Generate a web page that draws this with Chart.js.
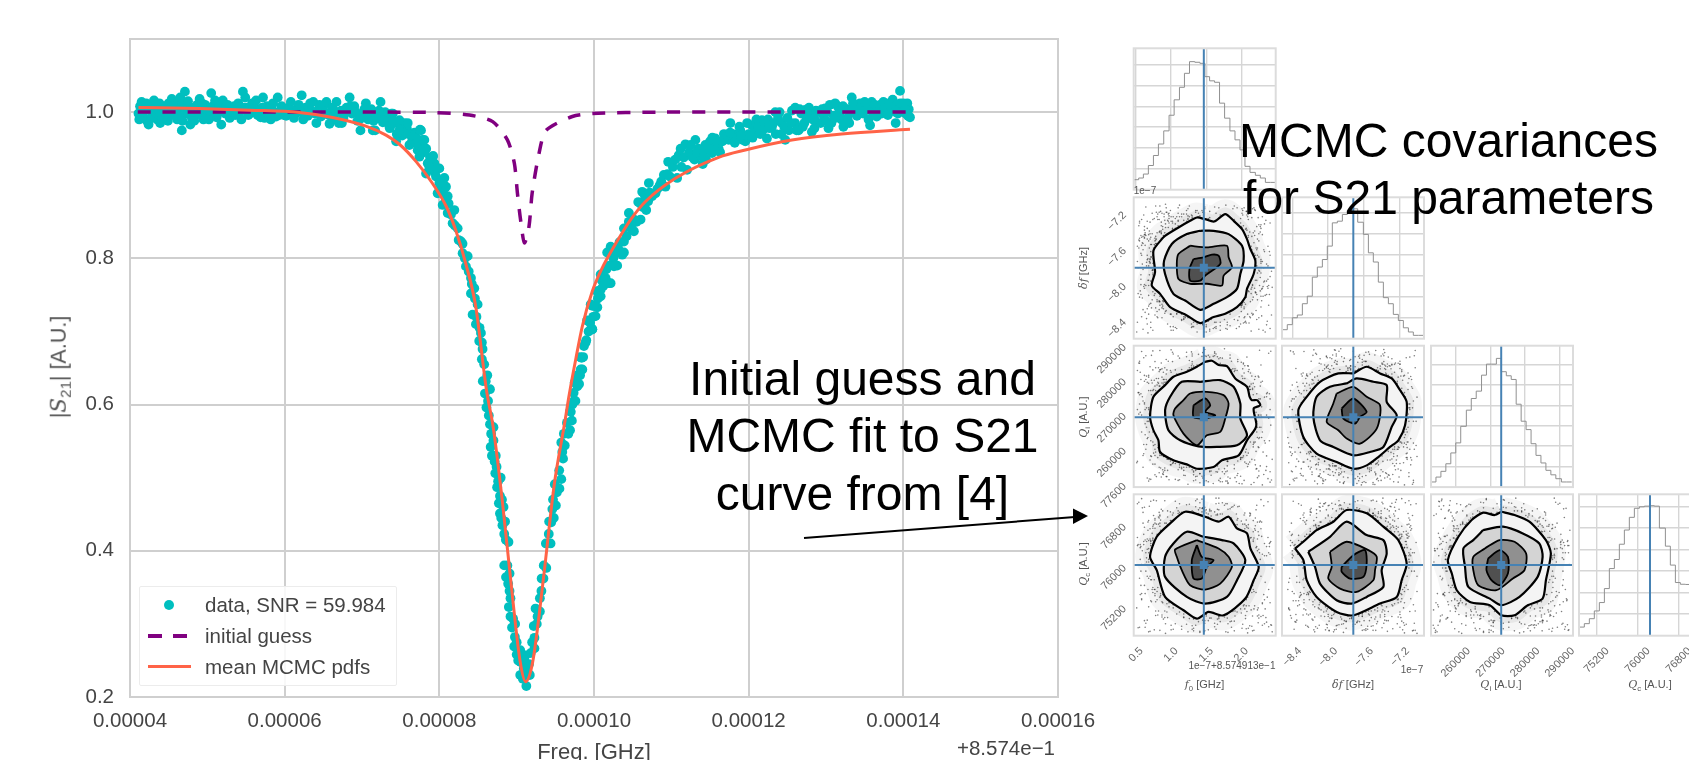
<!DOCTYPE html>
<html>
<head>
<meta charset="utf-8">
<title>S21 fit and MCMC covariances</title>
<script src="https://cdn.jsdelivr.net/npm/chart.js"></script>
<style>
    html, body { margin: 0; padding: 0; background: #fff; overflow: hidden; }
    #page { position: relative; width: 1689px; height: 760px; overflow: hidden; font-family: "Liberation Sans", sans-serif; }
    #page canvas { position: absolute; left: 0; top: 0; }
    .lbl { position: absolute; white-space: nowrap; color: #555; font-size: 11px; line-height: 1; transform: translate(-50%, -50%); }
    .rot { transform: translate(-50%, -50%) rotate(-90deg); }
    .lbl i { font-family: "DejaVu Serif", serif; }
    .lbl sub { font-size: .7em; line-height: 0; }
    .note { position: absolute; white-space: nowrap; text-align: center; color: #000; font-size: 48px; line-height: 57.5px; transform: translateX(-50%); }
    #legend { position: absolute; left: 139px; top: 586px; width: 258px; height: 100px; box-sizing: border-box; background: rgba(255,255,255,.85); border: 1px solid #ececec; border-radius: 2px; }
    #legend span { position: absolute; left: 65px; color: #444; font-size: 20.5px; line-height: 24px; white-space: nowrap; }
    #legend b { position: absolute; display: block; }
</style>
</head>
<body>
<div id="page">
    <canvas id="mainChart" width="1740" height="790"></canvas>
    <canvas id="hist0" width="1740" height="790"></canvas>
    <canvas id="pairA" width="1740" height="790"></canvas>
    <canvas id="hist1" width="1740" height="790"></canvas>
    <canvas id="pairB" width="1740" height="790"></canvas>
    <canvas id="pairC" width="1740" height="790"></canvas>
    <canvas id="hist2" width="1740" height="790"></canvas>
    <canvas id="pairD" width="1740" height="790"></canvas>
    <canvas id="pairE" width="1740" height="790"></canvas>
    <canvas id="pairF" width="1740" height="790"></canvas>
    <canvas id="hist3" width="1740" height="790"></canvas>

    <div class="lbl rot" style="left:59px;top:366.5px;font-size:21.5px;color:#555">|<i>S</i><sub>21</sub>| [A.U.]</div>
    <div class="lbl" style="left:1006px;top:748px;font-size:20.5px;color:#444">+8.574e−1</div>

    <div id="legend"></div>

    <div class="lbl" style="left:1145px;top:191px;font-size:10px">1e−7</div>
    <div class="lbl" style="left:1232px;top:666px;font-size:10px">1e−7+8.574913e−1</div>
    <div class="lbl" style="left:1412px;top:670px;font-size:10px">1e−7</div>
    <div class="lbl" style="left:1204.5px;top:684px"><i>f</i><sub>0</sub> [GHz]</div>
    <div class="lbl" style="left:1353px;top:684px"><i>δf</i> [GHz]</div>
    <div class="lbl" style="left:1501px;top:684px"><i>Q</i><sub>i</sub> [A.U.]</div>
    <div class="lbl" style="left:1650px;top:684px"><i>Q</i><sub>c</sub> [A.U.]</div>
    <div class="lbl rot" style="left:1083px;top:268px"><i>δf</i> [GHz]</div>
    <div class="lbl rot" style="left:1083px;top:417px"><i>Q</i><sub>i</sub> [A.U.]</div>
    <div class="lbl rot" style="left:1083px;top:564px"><i>Q</i><sub>c</sub> [A.U.]</div>

    <div class="note" style="left:1448.5px;top:111.6px">MCMC covariances<br>for S21 parameters</div>
    <div class="note" style="left:862.5px;top:349.6px">Initial guess and<br>MCMC fit to S21<br>curve from [4]</div>
    <svg style="position:absolute;left:0;top:0" width="1689" height="760">
        <line x1="804" y1="538" x2="1075" y2="517" stroke="#000" stroke-width="2"></line>
        <polygon points="1088,516 1073,508.5 1073,524" fill="#000"></polygon>
    </svg>
</div>

<script>
    // Main plot: x is the offset from 8.574e-1 GHz in units of 1e-5 GHz
    const xTicks = [4, 6, 8, 10, 12, 14, 16];
    const xTickLabels = ['0.00004', '0.00006', '0.00008', '0.00010', '0.00012', '0.00014', '0.00016'];
    const yTicks = [0.2, 0.4, 0.6, 0.8, 1.0];
    const yTickLabels = ['0.2', '0.4', '0.6', '0.8', '1.0'];
    const seriesLabels = ['data, SNR = 59.984', 'initial guess', 'mean MCMC pdfs'];

    const dataPoints = [
        [4.11,.998],[4.13,1.008],[4.15,1.014],[4.18,.992],[4.2,1.003],[4.22,.988],[4.24,.983],[4.26,1.01],[4.29,.996],[4.31,1.016],[4.33,1.005],[4.35,.99],
        [4.38,1.012],[4.39,.985],[4.42,1.0],[4.44,.993],[4.47,1.008],[4.49,.988],[4.52,1.002],[4.54,1.018],[4.56,.996],[4.59,1.012],[4.61,.99],[4.63,1.005],
        [4.65,1.02],[4.67,.975],[4.69,1.012],[4.71,1.028],[4.73,.998],[4.75,1.015],[4.78,.983],[4.8,.992],[4.82,1.006],[4.85,.996],[4.87,1.01],[4.9,1.018],
        [4.92,1.002],[4.95,.99],[4.97,1.01],[5.0,.998],[5.02,.99],[5.05,1.026],[5.07,1.008],[5.1,1.016],[5.12,.993],[5.15,1.008],[5.18,.983],[5.2,1.016],
        [5.23,.998],[5.26,1.01],[5.29,.992],[5.33,1.004],[5.36,.996],[5.4,1.012],[5.44,.99],[5.46,1.028],[5.49,1.02],[5.52,1.006],[5.55,.998],[5.58,1.012],
        [5.6,1.0],[5.63,1.016],[5.66,1.004],[5.69,.993],[5.72,1.02],[5.74,.992],[5.77,1.008],[5.8,.998],[5.82,.99],[5.85,1.012],[5.88,1.0],[5.91,1.02],
        [5.93,.996],[5.96,1.008],[5.99,.996],[6.02,.995],[6.05,1.006],[6.08,1.014],[6.11,1.002],[6.14,.998],[6.18,1.01],[6.22,1.023],[6.24,.99],[6.27,1.006],
        [6.3,.995],[6.33,1.012],[6.37,1.014],[6.41,.985],[6.44,1.004],[6.47,.994],[6.5,1.008],[6.54,1.014],[6.58,.984],[6.61,1.0],[6.64,.992],[6.67,1.014],
        [6.7,.985],[6.73,1.002],[6.76,.992],[6.8,1.006],[6.84,1.02],[6.87,.998],[6.9,1.008],[6.94,.988],[6.98,.975],[7.01,.996],[7.05,1.012],[7.08,.99],
        [7.12,1.004],[7.17,.975],[7.2,.992],[7.24,1.014],[7.27,.986],[7.3,1.0],[7.33,.992],[7.36,.978],[7.38,.998],[7.42,.985],[7.45,.97],[7.5,.982],
        [7.52,.968],[7.55,.985],[7.58,.978],[7.65,.962],[7.68,.972],[7.72,.948],[7.75,.976],[7.78,.962],[7.83,.95],[7.88,.938],[7.92,.94],
        [4.12,.99],[4.17,1.0],[4.21,1.012],[4.27,.992],[4.3,1.004],[4.34,.998],[4.37,1.004],[4.41,.992],[4.46,.998],[4.5,1.012],[4.55,1.008],[4.6,1.0],
        [4.64,.994],[4.68,.988],[4.74,1.004],[4.79,1.004],[4.83,.988],[4.88,1.0],[4.93,1.012],[4.98,.992],[5.04,1.0],[5.09,.998],[5.14,1.0],[5.19,1.006],
        [5.24,1.008],[5.3,1.0],[5.35,1.008],[5.42,1.0],[5.47,1.006],[5.53,.996],[5.59,1.004],[5.65,.996],[5.71,1.006],[5.76,1.0],[5.83,1.004],[5.89,.994],
        [5.95,1.0],[6.0,1.004],[6.06,.998],[6.12,.992],[6.16,1.002],[6.21,1.0],[6.28,.998],[6.34,1.002],[6.39,.998],[6.45,1.01],[6.52,1.0],[6.57,.996],
        [6.62,1.006],[6.68,1.0],[6.74,.985],[6.78,1.0],[6.85,1.008],[6.92,1.0],[6.97,.99],[7.03,1.004],[7.1,.998],[7.15,.988],[7.22,1.002],[7.28,.995],
        [7.35,.985],[7.46,.985],[7.51,.975],[7.6,.97],[7.7,.965],[7.74,.955],[7.8,.945],[7.85,.93],[7.9,.925],[7.94,.918],[8.02,.895],[8.05,.89],
        [8.12,.875],[8.15,.86],[8.2,.845],[8.25,.825],[8.3,.82],[8.33,.8],
        [7.312,.996],[7.398,.998],[7.484,.989],[7.591,.985],[7.441,.96],[7.548,.971],[7.656,.966],[7.763,.975],[7.699,.957],[7.806,.95],[7.806,.962],[7.914,.939],
        [7.935,.93],[7.828,.916],[8.0,.923],[8.065,.91],[8.086,.898],[7.978,.889],[8.108,.885],[8.043,.873],[8.194,.866],[8.108,.862],[8.172,.848],[8.237,.841],
        [8.28,.823],[8.301,.807],[8.366,.803],[7.355,.98],[7.484,.975],[7.613,.955],[7.742,.939],[7.871,.925],[7.957,.912],[8.0,.903],[8.086,.88],[7.398,.989],
        [7.269,.989],[7.183,.994],[7.14,.975],
        [8.344,.789],[8.409,.773],[8.452,.759],[8.409,.752],[8.495,.737],[8.43,.723],[8.473,.71],[8.538,.698],[8.516,.687],[8.559,.676],[8.55,.662],[8.6,.632],
        [8.562,.632],[8.655,.621],[8.609,.596],[8.655,.573],[8.7,.569],[8.7,.551],[8.664,.542],[8.715,.522],[8.724,.506],[8.793,.5],[8.747,.487],[8.784,.475],
        [8.83,.46],[8.784,.451],[8.816,.435],[8.839,.423],[8.894,.412],[8.839,.38],[8.908,.369],[8.862,.364],[8.908,.345],[8.899,.323],[8.954,.307],[8.977,.282],
        [8.968,.269],[9.046,.264],[9.046,.248],[9.046,.23],[9.125,.215],[9.115,.244],[9.115,.257],[9.092,.239],
        [8.38,.782],[8.42,.765],[8.46,.745],[8.48,.72],[8.52,.705],[8.55,.685],[8.58,.655],[8.62,.64],[8.59,.615],[8.63,.605],[8.64,.585],[8.67,.56],
        [8.68,.53],[8.73,.53],[8.74,.515],[8.76,.495],[8.77,.465],[8.8,.445],[8.81,.47],[8.85,.44],[8.86,.415],[8.88,.38],[8.89,.355],[8.92,.335],
        [8.92,.31],[8.94,.295],[8.98,.3],[9.0,.275],[9.0,.258],[9.02,.25],[9.07,.255],[9.08,.225],[9.1,.25],[9.14,.235],[9.16,.245],[9.18,.26],
        [9.2,.275],[9.17,.23],[9.26,.3],[9.27,.31],[9.32,.345],[9.35,.38],[9.42,.44],[9.47,.47],[9.48,.445],[9.52,.48],[9.55,.51],[9.59,.535],
        [9.61,.56],[9.65,.575],[9.69,.565],[9.72,.6],[9.75,.63],[9.78,.64],[9.82,.665],[9.86,.665],[9.91,.715],[9.99,.72],[10.04,.755],[10.1,.77],
        [9.23,.2665],[9.23,.281],[9.221,.297],[9.3,.317],[9.244,.321],[9.3,.335],[9.346,.362],[9.383,.3765],[9.323,.362],[9.438,.41],[9.378,.41],[9.415,.423],
        [9.447,.439],[9.507,.462],[9.461,.457],[9.553,.485],[9.493,.491],[9.577,.498],[9.6,.526],[9.622,.544],[9.577,.548],[9.668,.56],[9.714,.578],[9.691,.591],
        [9.76,.605],[9.737,.616],[9.807,.628],
        [10.15,.773],[10.215,.766],[10.086,.757],[9.978,.735],[10.043,.733],[9.978,.703],[9.892,.685],[9.828,.648],[9.785,.625],[9.742,.605],[9.7,.59],[10.28,.808],
        [10.387,.808],[10.49,.839],[10.17,.808],
        [9.849,.648],[9.84,.664],[9.87,.68],[9.978,.703],[10.02,.721],[9.957,.737],[10.086,.748],[10.193,.766],[10.086,.778],[10.258,.789],[10.365,.805],[10.215,.816],
        [10.387,.823],[10.516,.837],[10.387,.841],[10.602,.853],[10.451,.862],[10.675,.866],[10.572,.877],[10.623,.891],[10.795,.889],[10.709,.903],[10.924,.898],[10.903,.914],
        [10.959,.932],[11.075,.91],[11.096,.941],[11.204,.921],[11.182,.956],[11.311,.962],[11.268,.939],[11.406,.929],[11.44,.955],[11.569,.964],[11.526,.944],[11.612,.95],
        [11.763,.985],[11.742,.962],[11.892,.975],[11.957,.96],[12.043,.982],[12.172,.989],[12.236,.964],[12.344,1.0],[12.301,.98],[12.473,.962],[12.43,.985],[12.602,1.006],
        [12.645,.975],[12.731,1.003],[12.817,.973],[12.86,.989],[12.989,1.005],[13.032,.978],[13.118,1.012],[13.225,.98],[13.18,.998],[13.333,1.02],[13.333,1.0],[13.484,1.012],
        [13.57,.982],[13.591,1.014],[13.656,.994],[13.742,1.014],[13.862,1.017],[13.901,.985],[13.957,1.029],[13.978,1.003],[14.051,1.012],[14.086,.993],
        [9.82,.64],[9.9,.688],[9.93,.7],[9.95,.712],[10.0,.735],[10.05,.745],[10.12,.762],[10.16,.785],[10.25,.8],[10.3,.79],[10.33,.822],[10.42,.83],
        [10.48,.845],[10.55,.85],[10.63,.87],[10.7,.878],[10.75,.885],[10.82,.895],[10.87,.905],[10.98,.912],[11.02,.925],[11.13,.925],[11.16,.938],[11.23,.945],
        [11.3,.935],[11.35,.95],[11.38,.94],[11.45,.935],[11.5,.96],[11.55,.952],[11.6,.958],[11.66,.96],[11.7,.968],[11.8,.97],[11.85,.965],[11.88,.98],
        [11.92,.962],[12.0,.97],[12.08,.975],[12.1,.99],[12.15,.97],[12.2,.985],[12.27,.978],[12.35,.97],[12.38,.992],[12.42,.97],[12.5,.992],[12.52,.975],
        [12.56,1.002],[12.6,.985],[12.68,.998],[12.7,.98],[12.75,.992],[12.78,1.006],[12.85,.978],[12.9,1.0],[12.93,.985],[12.97,.995],[13.02,1.0],[13.07,.985],
        [13.1,.995],[13.15,1.008],[13.2,.99],[13.27,1.004],[13.3,.985],[13.37,1.005],[13.4,.995],[13.44,1.012],[13.48,.998],[13.53,1.006],[13.6,1.0],[13.63,1.01],
        [13.68,1.005],[13.72,.998],[13.78,1.012],[13.82,1.002],[13.88,1.008],[13.93,.998],[14.0,1.012],[14.03,.998],[14.07,1.004],
        [10.14,.77],[10.2,.79],[10.27,.81],[10.31,.815],[10.45,.85],[10.5,.855],[10.6,.875],[10.66,.885],[10.72,.89],[10.85,.9],[10.95,.915],[11.05,.935],
        [11.12,.95],[11.25,.955],[11.33,.945],[11.42,.945],[11.48,.95],[11.53,.965],[11.63,.945],[11.68,.97],[11.76,.972],[11.82,.958],[11.9,.968],[11.98,.985],
        [12.05,.965],[12.12,.98],[12.18,.975],[12.25,.99],[12.32,.985],[12.4,1.0],[12.46,.98],[12.55,.985],[12.62,.975],[12.66,1.004],[12.72,.985],[12.8,.995],
        [12.83,.99],[12.87,1.002],[12.95,1.004],[13.0,.988],[13.05,1.01],[13.12,.992],[13.17,1.0],[13.22,1.008],[13.28,.992],[13.35,1.012],[13.42,1.003],[13.5,1.014],
        [13.55,.99],[13.65,1.002],[13.7,1.01],[13.75,1.004],[13.8,.996],[13.85,1.006],[13.9,1.0],[13.96,1.012],[14.02,1.004],[14.06,.995]
    ];
    const guessPoints = [
        [4.1,1],[6,1],[7.3,1.0],[7.91,.9995],[8.39,.996],[8.69,.987],[8.88,.962],[8.97,.93],[9.01,.889],[9.05,.853],[9.1,.821],
        [9.16,.844],[9.2,.889],[9.29,.944],[9.38,.975],[9.72,.994],[9.978,.998],[10.84,1.0],[12.5,1],[14.09,1]
    ];
    const meanPoints = [
        [4.11,1.0064],[4.9,1.005],[5.55,1.0027],[6.19,.9995],[6.62,.9927],[7.05,.9809],[7.31,.9686],[7.48,.9564],[7.7,.9323],[7.91,.9027],[8.09,.8709],[8.21,.8391],
        [8.34,.7936],[8.47,.7345],[8.608,.621],[8.7,.5665],[8.816,.4665],[8.93,.3529],[9.045,.2484],[9.115,.221],[9.208,.2484],[9.346,.362],[9.484,.489],[9.622,.5757],
        [9.677,.612],[9.764,.662],[9.849,.707],[9.978,.755],[10.107,.787],[10.236,.812],[10.365,.835],[10.474,.853],[10.666,.8777],[11.053,.9095],[11.612,.9382],[11.957,.9482],[12.559,.9618],[13.204,.97],[14.086,.9764]
    ];

    // Corner plot axes
    const f0Ticks = [0.5, 1.0, 1.5, 2.0];
    const f0TickLabels = ['0.5', '1.0', '1.5', '2.0'];
    const dfTicks = [-8.4, -8.0, -7.6, -7.2];
    const dfTickLabels = ['−8.4', '−8.0', '−7.6', '−7.2'];
    const qiTicks = [260000, 270000, 280000, 290000];
    const qiTickLabels = ['260000', '270000', '280000', '290000'];
    const qcTicks = [75200, 76000, 76800];
    const qcTickLabels = ['75200', '76000', '76800'];
    const qcTicksLeft = [75200, 76000, 76800, 77600];
    const qcTickLabelsLeft = ['75200', '76000', '76800', '77600'];
    const histGrid = [1, 2, 3, 4, 5, 6];

    const f0Range = [0.467, 2.49];
    const dfRange = [-8.515, -6.932];
    const qiRange = [252860, 293800];
    const qcRange = [74855, 77625];
    const f0True = 1.466, dfTrue = -7.72, qiTrue = 273100, qcTrue = 76240;

    // 1D histograms
    const f0Edges = [.467,.538,.605,.676,.748,.819,.895,.971,1.043,1.119,1.19,1.262,1.338,1.41,1.481,1.548,1.619,1.69,1.762,1.838,1.91,1.981,2.052,2.124,2.2,2.271,2.343,2.414,2.49];
    const f0Hist = [.29,.48,.56,.75,1.16,1.64,2.19,2.82,3.57,4.31,4.91,5.58,6.14,6.11,6.06,5.42,5.22,5.15,4.15,3.43,2.82,2.39,1.91,1.12,.83,.69,.56,.35];
    const dfEdges = [-8.515,-8.456,-8.4,-8.344,-8.288,-8.233,-8.177,-8.121,-8.065,-8.01,-7.954,-7.898,-7.842,-7.787,-7.727,-7.671,-7.608,-7.552,-7.497,-7.441,-7.385,-7.329,-7.274,-7.218,-7.162,-7.106,-7.051,-6.995,-6.932];
    const dfHist = [.32,.43,.67,1.0,1.13,1.67,2.03,2.94,3.42,3.78,4.42,5.53,5.61,5.93,6.12,6.2,5.56,4.98,4.1,3.66,2.7,1.96,1.67,1.16,.87,.52,.32,.16];
    const qiEdges = [252950,254290,255720,257140,258570,260000,261430,263050,264470,265900,267430,268850,270280,271710,273140,274570,275990,277420,278850,280280,281710,283130,284560,285990,287420,288850,290460,291890,293420];
    const qiHist = [.05,.25,.49,.77,1.14,1.67,2.16,2.97,3.76,4.33,4.69,5.47,6.01,6.01,6.29,5.64,5.44,5.26,4.05,3.22,2.81,2.12,1.55,1.18,.82,.6,.41,.25];
    const qcEdges = [74862,74959,75057,75154,75252,75350,75447,75545,75642,75740,75837,75935,76033,76130,76228,76325,76423,76540,76637,76735,76832,76930,77028,77125];
    const qcHist = [.25,.4,.56,.79,1.15,1.54,2.19,3.12,3.54,4.25,4.91,5.5,5.92,5.99,6.02,6.04,6.02,5.0,4.16,3.28,2.47,2.39,2.38];

    // Samples outside the contours, one value per walker step
    const f0Chain = [
        .62,2.21,1.03,.81,2.38,1.78,.55,1.95,2.12,.74,1.22,2.30,.68,1.88,.93,2.05,
        .58,1.66,2.41,.87,1.35,2.18,.71,1.02,2.27,.63,1.91,.79,2.34,1.48,.84,2.09,
        2.25,.52,1.12,2.01,.77,1.57,2.36,.66,1.84,.97,2.16,.60,1.29,2.28,.89,1.73,
        .73,2.43,.95,1.62,2.07,.56,1.41,2.23,.82,1.99,.64,2.32,1.08,.70,2.14,1.53,
        2.39,.85,1.18,.59,2.03,1.70,.76,2.26,.91,1.44,2.19,.53,1.93,.67,1.26,2.35,
        .99,2.11,.61,1.81,2.29,.78,1.37,.57,2.42,1.60,.86,2.06,.72,2.20,1.15,.65,
        1.97,.54,2.31,1.06,.83,2.15,1.50,.69,2.37,.92,1.76,.60,2.24,1.32,.75,2.00,
        2.33,.88,1.45,.51,2.10,1.24,.80,2.40,1.68,.66,1.90,.96,2.17,.58,1.10,2.28,
        .71,1.86,2.44,.63,1.39,2.04,.90,2.22,.55,1.55,.77,2.13,1.00,2.36,.62,1.80,
        2.08,.74,1.20,2.30,.57,1.64,2.25,.84,1.94,.68,2.41,1.30,.52,2.02,.94,1.47
    ];
    const dfChain = [
        -7.35,-8.2,-8.38,-7.12,-7.7,-8.05,-7.22,-8.31,-7.5,-8.42,-7.08,-7.95,-8.15,-7.3,-7.62,-8.27,
        -7.18,-7.85,-8.4,-7.42,-8.1,-7.05,-8.33,-7.58,-7.26,-8.22,-7.78,-7.1,-8.44,-7.38,-8.0,-7.15,
        -8.28,-7.48,-7.02,-8.12,-7.9,-7.32,-8.36,-7.2,-7.65,-8.03,-7.06,-8.41,-7.55,-7.24,-8.18,-7.82,
        -7.11,-8.25,-7.74,-8.39,-7.28,-7.98,-7.14,-8.08,-7.45,-8.35,-7.04,-7.88,-8.24,-7.34,-8.43,-7.6,
        -8.14,-7.09,-8.3,-7.68,-7.4,-8.37,-7.17,-7.92,-7.52,-8.2,-7.07,-8.01,-7.27,-8.45,-7.76,-7.19,
        -7.44,-8.34,-7.13,-7.83,-8.26,-7.03,-8.11,-7.36,-7.72,-8.4,-7.21,-7.96,-8.17,-7.08,-7.56,-8.29,
        -8.06,-7.25,-8.42,-7.46,-7.1,-8.23,-7.66,-7.31,-8.32,-7.01,-7.86,-8.19,-7.16,-8.38,-7.5,-7.93,
        -7.23,-8.09,-7.37,-8.44,-7.8,-7.06,-8.21,-7.54,-7.29,-8.35,-7.99,-7.12,-7.7,-8.27,-7.41,-8.04,
        -8.39,-7.18,-7.94,-7.33,-8.13,-7.05,-7.63,-8.3,-7.2,-8.43,-7.47,-7.11,-8.16,-7.87,-7.26,-8.36,
        -7.09,-7.75,-8.28,-7.15,-8.02,-7.39,-8.41,-7.03,-7.58,-8.24,-7.22,-7.91,-8.33,-7.13,-7.67,-8.1
    ];
    const qiChain = [
        285200,258100,291400,264300,255300,279600,288700,256800,270200,292300,261400,283500,254600,276900,289800,260100,
        268800,290600,257300,284700,262900,254200,280800,291900,259000,275300,287100,255900,265600,292700,263200,278400,
        256100,286600,271900,253800,289200,282100,258800,266900,291100,255000,281500,262000,288000,273700,257200,290200,
        283000,254900,277800,292000,259700,286100,268000,255600,284300,261000,290900,256500,274500,287700,253600,264900,
        291600,263800,256300,279000,288500,255400,269600,292500,258400,285600,260700,282700,254400,272800,289500,257700,
        260400,281900,290300,254100,267200,287400,256000,284000,292200,262500,255800,276100,291000,259300,286900,265200,
        253900,288800,263000,283800,257000,270800,290700,255200,280200,261700,292900,258600,285000,254700,274000,289000,
        278900,256700,291800,259900,287900,253700,282400,266300,290000,255500,284900,262700,275800,292100,257900,288200,
        255100,286300,260900,271200,291300,254800,283200,258200,289300,264500,256400,281100,292600,261900,277300,287200,
        290500,259500,285900,253500,279900,288400,257500,292400,265900,282900,254300,290800,260300,273100,286800,256200
    ];
    const qcChain = [
        75150,77320,74980,76820,77480,75320,75980,77150,75050,76620,77420,75480,74930,76980,75700,77260,
        77540,75080,76450,75220,77380,74960,76720,75580,77100,75020,76900,77500,75380,76250,77220,74910,
        75260,76780,77440,75000,75640,77200,75120,76550,77340,75420,74950,77060,75800,77520,75180,76680,
        76860,75060,77300,75540,74990,76350,77460,75240,77040,75900,75100,77400,76580,74940,75360,77180,
        75030,77120,75660,77360,76750,75130,74970,76480,77500,75280,76950,75010,77240,75760,77430,75210,
        77280,75440,76640,74920,77080,75340,77530,76120,75070,76840,77330,75190,75520,77010,74980,76700,
        76520,77470,75250,75950,77160,75040,76380,77390,75610,74900,76920,77270,75110,76560,77510,75300,
        75090,76800,77350,75400,75000,77210,75720,76660,77450,75160,74950,77030,76300,75560,77300,75230,
        77490,75140,74930,76730,77170,75460,76020,77410,75020,76890,75680,77250,74970,76420,77370,75270,
        75330,76960,77220,75060,76600,77550,75200,74960,76770,77110,75500,75840,77440,75080,77000,76180
    ];
    // the chains are paired at these lags so every panel gets its own cloud
    const chainLags = [0, 7, 13, 29, 41, 59, 73, 97, 113, 131];

    // Contour levels per panel, outermost first
    const contoursA = [
        [[1.486,-7.177],[1.614,-7.203],[1.771,-7.121],[1.89,-7.195],[2.01,-7.288],[2.081,-7.4],[2.129,-7.511],[2.2,-7.641],[2.176,-7.79],[2.081,-7.957],[2.057,-8.05],[1.938,-8.162],[1.771,-8.236],[1.605,-8.273],[1.414,-8.34],[1.224,-8.255],[.986,-8.162],[.843,-8.013],[.724,-7.92],[.771,-7.771],[.748,-7.53],[.867,-7.4],[.914,-7.363],[1.105,-7.27],[1.271,-7.195],[1.367,-7.158]],
        [[1.414,-7.307],[1.605,-7.307],[1.819,-7.344],[2.01,-7.474],[2.033,-7.641],[1.986,-7.79],[1.938,-7.957],[1.795,-8.05],[1.605,-8.125],[1.414,-8.192],[1.2,-8.088],[1.033,-8.013],[.914,-7.79],[.9,-7.641],[1.01,-7.455],[1.224,-7.344]],
        [[1.271,-7.474],[1.51,-7.493],[1.795,-7.474],[1.819,-7.604],[1.867,-7.716],[1.748,-7.809],[1.724,-7.92],[1.51,-7.9],[1.271,-7.9],[1.105,-7.846],[1.081,-7.679],[1.105,-7.567]],
        [[1.319,-7.623],[1.462,-7.604],[1.581,-7.574],[1.676,-7.586],[1.7,-7.679],[1.486,-7.809],[1.414,-7.865],[1.271,-7.865],[1.262,-7.734]]
    ];
    const contoursB = [
        [[1.486,289160],[1.581,289450],[1.676,288190],[1.795,287900],[1.914,284320],[2.081,281900],[2.119,279000],[2.152,278030],[2.224,278030],[2.271,276580],[2.176,275610],[2.214,271250],[2.2,269800],[2.081,266410],[1.962,262060],[1.724,260600],[1.605,258670],[1.367,258180],[1.224,259440],[1.033,260600],[.843,263020],[.819,266410],[.748,269320],[.7,273190],[.748,279000],[.914,282380],[1.033,284800],[1.224,286260],[1.367,287700]],
        [[1.414,283350],[1.7,283840],[1.89,281900],[1.986,277060],[1.986,272700],[2.081,267860],[1.938,264960],[1.652,264480],[1.39,264670],[1.129,266410],[.962,269320],[.914,275120],[.986,279000],[1.152,283350]],
        [[1.176,278030],[1.271,279960],[1.51,280450],[1.748,279480],[1.819,277060],[1.771,272700],[1.7,268830],[1.51,267860],[1.367,264960],[1.176,268350],[1.033,273670],[1.057,275610]],
        [[1.319,276580],[1.486,278510],[1.557,276580],[1.486,274640],[1.629,273670],[1.486,272700],[1.319,273190]]
    ];
    const contoursC = [
        [[-7.72,285770],[-7.571,287700],[-7.422,285770],[-7.292,284320],[-7.199,280930],[-7.125,277540],[-7.143,270770],[-7.218,266410],[-7.311,264480],[-7.441,261570],[-7.571,259150],[-7.72,258180],[-7.906,260120],[-8.129,262540],[-8.277,267380],[-8.333,275120],[-8.24,279000],[-8.091,283350],[-7.887,285770]],
        [[-7.794,282870],[-7.683,284320],[-7.497,283350],[-7.348,282380],[-7.348,277540],[-7.236,273670],[-7.292,270280],[-7.385,264480],[-7.534,263020],[-7.72,262060],[-7.943,264480],[-8.091,266410],[-8.166,273190],[-8.129,279000],[-7.98,281900]],
        [[-7.906,279960],[-7.72,281900],[-7.571,279000],[-7.422,276580],[-7.459,269800],[-7.645,265440],[-7.794,266900],[-7.887,269320],[-8.017,271740],[-7.943,277060]],
        [[-7.85,275610],[-7.72,278510],[-7.571,274640],[-7.645,273190],[-7.701,271250],[-7.831,272700]]
    ];
    const contoursD = [
        [[1.486,77186],[1.676,77088],[1.819,77186],[1.938,76957],[2.081,76859],[2.129,76564],[2.248,76204],[2.176,75942],[2.057,75582],[1.748,75254],[1.533,75320],[1.367,75189],[1.176,75353],[.914,75615],[.795,76138],[.7,76400],[.795,76793],[.986,77055],[1.2,77284]],
        [[1.462,76793],[1.724,76728],[1.89,76662],[2.057,76335],[1.938,75942],[1.795,75615],[1.486,75484],[1.224,75615],[.914,76007],[.914,76400],[1.033,76662],[1.224,76891]],
        [[1.367,76728],[1.676,76564],[1.819,76400],[1.867,76204],[1.7,75876],[1.486,75759],[1.271,75844],[1.152,76138],[1.081,76400],[1.057,76544]],
        [[1.367,76630],[1.438,76400],[1.605,76335],[1.51,76204],[1.438,75975],[1.319,75975],[1.295,76335]]
    ];
    const contoursE = [
        [[-8.37,76564],[-8.277,76335],[-8.24,75942],[-8.129,75615],[-7.906,75320],[-7.72,75254],[-7.422,75484],[-7.236,75615],[-7.181,75942],[-7.125,76269],[-7.218,76728],[-7.385,76990],[-7.571,77252],[-7.794,77317],[-7.943,77088],[-8.129,76924],[-8.277,76695]],
        [[-8.222,76499],[-7.98,76793],[-7.794,77088],[-7.571,76826],[-7.385,76728],[-7.348,76466],[-7.404,76138],[-7.385,75811],[-7.571,75615],[-7.738,75484],[-7.906,75549],[-8.091,75876],[-8.147,76204]],
        [[-7.98,76499],[-7.794,76695],[-7.552,76531],[-7.459,76400],[-7.478,76138],[-7.497,75942],[-7.683,75713],[-7.868,75778],[-7.999,75975],[-7.961,76204]],
        [[-7.85,76204],[-7.72,76433],[-7.59,76531],[-7.571,76269],[-7.608,76007],[-7.757,75975],[-7.85,76106]]
    ];
    const contoursF = [
        [[273140,77284],[276950,77219],[281230,77088],[285990,76728],[287420,76466],[285990,75942],[285040,75582],[280750,75451],[276950,75254],[273140,75254],[269810,75451],[264090,75516],[260290,75746],[258860,76073],[257720,76335],[260760,76793],[264570,77121],[267900,77265],[271230,77219]],
        [[267900,76924],[273610,76990],[279330,76859],[284090,76662],[285040,76400],[283610,76007],[278370,75615],[273140,75451],[269810,75582],[263620,75811],[262670,76204],[262190,76564],[265050,76728]],
        [[268380,76564],[272660,76728],[276950,76695],[280280,76466],[279800,76138],[276470,75975],[271710,75746],[266470,75844],[265050,76138],[265050,76400]],
        [[269330,76368],[272660,76531],[275040,76400],[275040,76073],[272660,75844],[270280,75942],[268850,76138]]
    ];

    // Panel layout, in page pixels
    const canvasW = 1740, canvasH = 790;
    const colLeft = [1133.7, 1282, 1431, 1579];
    const rowTop = [48.3, 197.3, 345.7, 494.3];
    const panelSize = 142, panelHeight = 141.4;

    const blue = '#4682b4';
    const levelFills = ['#f4f4f4', '#d4d4d4', '#909090', '#505050'];

    const framePlugin = {
        id: 'frame',
        afterDatasetsDraw(chart, args, opts) {
            const a = chart.chartArea, ctx = chart.ctx;
            ctx.save();
            ctx.strokeStyle = opts.color;
            ctx.lineWidth = opts.width;
            ctx.strokeRect(a.left, a.top, a.width, a.height);
            ctx.restore();
        }
    };
    Chart.register(framePlugin);
    Chart.defaults.font.family = '"Liberation Sans", sans-serif';

    const toXY = list => list.map(p => ({ x: p[0], y: p[1] }));
    const closed = list => toXY([...list, list[0]]);

    function axisOptions(range, ticks, labels, show, rotated, grid, offset, axisSize, isX) {
        return {
            type: 'linear',
            min: range[0],
            max: range[1],
            afterBuildTicks: s => { s.ticks = ticks.map(v => ({ value: v })); },
            afterFit: s => { if (isX) s.height = axisSize; else s.width = axisSize; },
            border: { display: false },
            grid: { display: grid, color: '#d6d6d6', lineWidth: 1.4, drawTicks: false },
            ticks: {
                display: show,
                autoSkip: false,
                padding: 9,
                color: '#666',
                font: { size: 11 },
                minRotation: rotated ? 45 : 0,
                maxRotation: rotated ? 45 : 0,
                labelOffset: offset,
                callback: (v, i) => labels[i]
            }
        };
    }

    function panelOptions(col, row, xAxis, yAxis) {
        const left = colLeft[col], top = rowTop[row];
        return {
            responsive: false,
            animation: false,
            devicePixelRatio: 1,
            events: [],
            layout: { padding: { left: left - 60, top: top, right: canvasW - left - panelSize, bottom: canvasH - top - panelHeight - 100 } },
            plugins: { legend: { display: false }, tooltip: { enabled: false }, frame: { color: '#dcdcdc', width: 2 } },
            scales: {
                x: axisOptions(xAxis.range, xAxis.ticks, xAxis.labels, row === 3, true, col === row, xAxis.offset, 100, true),
                y: col === row
                    ? axisOptions([0, xAxis.histTop], histGrid, histGrid, false, false, true, 0, 60, false)
                    : axisOptions(yAxis.range, yAxis.ticks, yAxis.labels, col === 0, true, false, -yAxis.offset, 60, false)
            }
        };
    }

    const f0Axis = { range: f0Range, ticks: f0Ticks, labels: f0TickLabels, offset: 5.4, truth: f0True, histTop: 6.78 };
    const dfAxis = { range: dfRange, ticks: dfTicks, labels: dfTickLabels, offset: 7.7, truth: dfTrue, histTop: 6.75 };
    const qiAxis = { range: qiRange, ticks: qiTicks, labels: qiTickLabels, offset: 13, truth: qiTrue, histTop: 6.91 };
    const qcAxis = { range: qcRange, ticks: qcTicks, labels: qcTickLabels, offset: 10.8, truth: qcTrue, histTop: 6.57 };
    const qcAxisLeft = { ...qcAxis, ticks: qcTicksLeft, labels: qcTickLabelsLeft };

    function makeHist(id, col, axis, edges, counts) {
        const steps = edges.map((e, i) => ({ x: e, y: counts[Math.min(i, counts.length - 1)] }));
        new Chart(document.getElementById(id), {
            type: 'scatter',
            data: { datasets: [
                { data: [{ x: axis.truth, y: 0 }, { x: axis.truth, y: axis.histTop }], showLine: true, borderColor: blue, borderWidth: 2, pointRadius: 0 },
                { data: steps, showLine: true, stepped: 'after', borderColor: '#909090', borderWidth: 1, pointRadius: 0 }
            ] },
            options: panelOptions(col, col, axis, null)
        });
    }

    // pairs the two chains and keeps the corners of the panel sparse
    function cloudPoints(xAxis, yAxis, xChain, yChain) {
        const halfX = (xAxis.range[1] - xAxis.range[0]) / 2, halfY = (yAxis.range[1] - yAxis.range[0]) / 2;
        const pts = [];
        chainLags.forEach((lag, k) => {
            xChain.forEach((v, i) => {
                const w = yChain[(i + lag) % yChain.length];
                const r = Math.hypot((v - xAxis.truth) / halfX, (w - yAxis.truth) / halfY);
                if (k === 0 || r < (k < 4 ? 1.0 : 0.82)) pts.push({ x: v, y: w });
            });
        });
        return pts;
    }

    function makePair(id, col, row, xAxis, yAxis, xChain, yChain, contours) {
        const sets = [
            { data: [{ x: xAxis.truth, y: yAxis.truth }], pointStyle: 'rect', pointRadius: 5.7, pointBackgroundColor: blue, pointBorderWidth: 0 },
            { data: [{ x: xAxis.truth, y: yAxis.range[0] }, { x: xAxis.truth, y: yAxis.range[1] }], showLine: true, borderColor: blue, borderWidth: 2, pointRadius: 0 },
            { data: [{ x: xAxis.range[0], y: yAxis.truth }, { x: xAxis.range[1], y: yAxis.truth }], showLine: true, borderColor: blue, borderWidth: 2, pointRadius: 0 }
        ];
        // innermost level first so it ends up on top
        for (let i = contours.length - 1; i >= 0; i--) {
            sets.push({
                data: closed(contours[i]), showLine: true, fill: 'shape', backgroundColor: levelFills[i],
                borderColor: '#000', borderWidth: i < 2 ? 2.2 : 1.8, tension: 0.25, pointRadius: 0
            });
        }
        sets.push({ data: cloudPoints(xAxis, yAxis, xChain, yChain), pointRadius: 0.8, pointBackgroundColor: 'rgba(0,0,0,.5)', pointBorderWidth: 0 });
        // faint grey under the dense samples around the outer contour
        [[14, .06], [30, .04]].forEach(h => {
            sets.push({ data: closed(contours[0]), showLine: true, borderColor: `rgba(0,0,0,${h[1]})`, borderWidth: h[0], borderJoinStyle: 'round', tension: 0.25, pointRadius: 0, clip: 0 });
        });
        new Chart(document.getElementById(id), {
            type: 'scatter',
            data: { datasets: sets },
            options: panelOptions(col, row, xAxis, yAxis)
        });
    }

    makeHist('hist0', 0, f0Axis, f0Edges, f0Hist);
    makeHist('hist1', 1, dfAxis, dfEdges, dfHist);
    makeHist('hist2', 2, qiAxis, qiEdges, qiHist);
    makeHist('hist3', 3, qcAxis, qcEdges, qcHist);
    makePair('pairA', 0, 1, f0Axis, dfAxis, f0Chain, dfChain, contoursA);
    makePair('pairB', 0, 2, f0Axis, qiAxis, f0Chain, qiChain, contoursB);
    makePair('pairC', 1, 2, dfAxis, qiAxis, dfChain, qiChain, contoursC);
    makePair('pairD', 0, 3, f0Axis, qcAxisLeft, f0Chain, qcChain, contoursD);
    makePair('pairE', 1, 3, dfAxis, qcAxisLeft, dfChain, qcChain, contoursE);
    makePair('pairF', 2, 3, qiAxis, qcAxisLeft, qiChain, qcChain, contoursF);

    // Main S21 plot
    new Chart(document.getElementById('mainChart'), {
        type: 'scatter',
        data: {
            datasets: [
                { label: seriesLabels[2], data: toXY(meanPoints), showLine: true, borderColor: '#ff6347', borderWidth: 3, pointRadius: 0, cubicInterpolationMode: 'monotone', order: 1 },
                { label: seriesLabels[1], data: toXY(guessPoints), showLine: true, borderColor: '#800080', borderWidth: 3.5, borderDash: [13, 12], pointRadius: 0, tension: 0.25, order: 2 },
                { label: seriesLabels[0], data: toXY(dataPoints), pointRadius: 4.9, pointBackgroundColor: '#00bfbf', pointBorderWidth: 0, order: 3 }
            ]
        },
        options: {
            responsive: false,
            animation: false,
            devicePixelRatio: 1,
            events: [],
            layout: { padding: { left: 0, top: 39, right: canvasW - 1058, bottom: 0 } },
            plugins: { legend: { display: false }, tooltip: { enabled: false }, frame: { color: '#cfcfcf', width: 2 } },
            scales: {
                x: {
                    type: 'linear',
                    min: 4,
                    max: 16,
                    afterBuildTicks: s => { s.ticks = xTicks.map(v => ({ value: v })); },
                    afterFit: s => { s.height = canvasH - 697; },
                    border: { display: false },
                    grid: { color: '#cfcfcf', lineWidth: 2, drawTicks: false },
                    ticks: { autoSkip: false, maxRotation: 0, minRotation: 0, padding: 12, color: '#444', font: { size: 20.5 }, callback: (v, i) => xTickLabels[i] },
                    title: { display: true, text: 'Freq. [GHz]', color: '#444', font: { size: 22, lineHeight: 1 }, padding: { top: 0, bottom: 26 } }
                },
                y: {
                    type: 'linear',
                    min: 0.2,
                    max: 1.1,
                    afterBuildTicks: s => { s.ticks = yTicks.map(v => ({ value: v })); },
                    afterFit: s => { s.width = 130; },
                    border: { display: false },
                    grid: { color: '#cfcfcf', lineWidth: 2, drawTicks: false },
                    ticks: { autoSkip: false, padding: 16, color: '#444', font: { size: 20.5 }, callback: (v, i) => yTickLabels[i] }
                }
            }
        }
    });

    // Legend box over the main plot
    const legend = document.getElementById('legend');
    legend.innerHTML =
        `<b style="left:24px;top:13px;width:10px;height:10px;border-radius:50%;background:#00bfbf"></b>` +
        `<b style="left:8px;top:47px;width:14px;height:3.5px;background:#800080"></b>` +
        `<b style="left:33px;top:47px;width:14px;height:3.5px;background:#800080"></b>` +
        `<b style="left:8px;top:78px;width:43px;height:3px;background:#ff6347"></b>` +
        seriesLabels.map((t, i) => `<span style="top:${6 + i * 31}px">${t}</span>`).join('');
</script>
</body>
</html>
